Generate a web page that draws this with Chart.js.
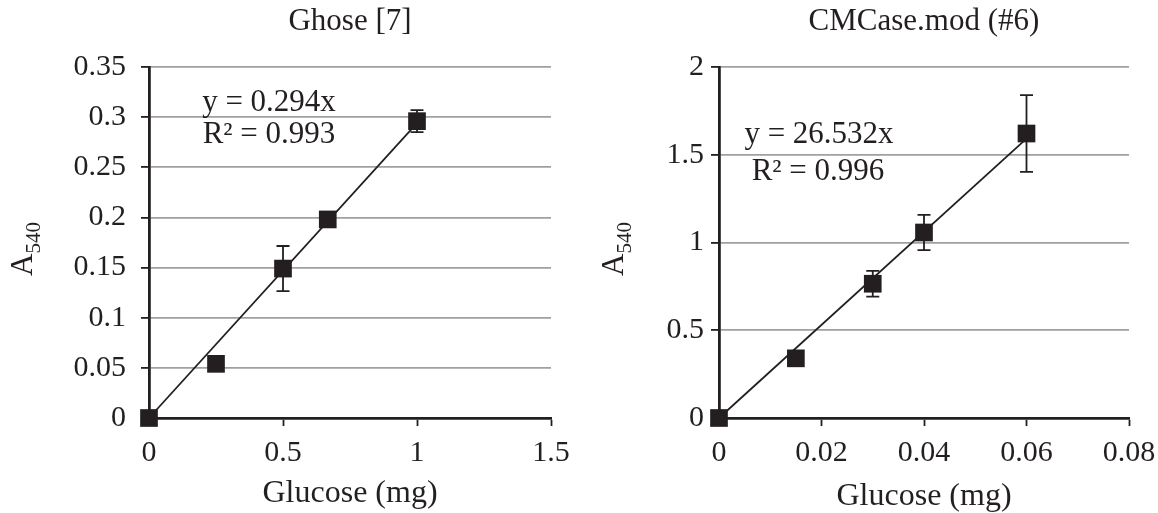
<!DOCTYPE html>
<html>
<head>
<meta charset="utf-8">
<script src="https://cdn.jsdelivr.net/npm/chart.js@4.4.1/dist/chart.umd.min.js"></script>
<style>
html,body{margin:0;padding:0;background:#fff;}
#wrap{position:relative;width:1158px;height:513px;}
.c{position:absolute;top:0;width:579px;height:513px;}
</style>
</head>
<body>
<div id="wrap">
<div class="c" style="left:0"><canvas id="c1"></canvas></div>
<div class="c" style="left:579px"><canvas id="c2"></canvas></div>
</div>
<script>
// ---- data: left panel (Ghose [7]) ----
const leftTitle = "Ghose [7]";
const leftX = [0, 0.25, 0.5, 0.667, 1];
const leftY = [0, 0.054, 0.149, 0.198, 0.296];
const leftErr = [0, 0, 0.0225, 0, 0.011];
const leftSlope = 0.294;
const leftFitX = [0, 1];
const leftEq = ["y = 0.294x", "R² = 0.993"];
const leftXTicks = [0, 0.5, 1, 1.5];
const leftXTickLabels = ["0", "0.5", "1", "1.5"];
const leftYTicks = [0, 0.05, 0.1, 0.15, 0.2, 0.25, 0.3, 0.35];
const leftYTickLabels = ["0", "0.05", "0.1", "0.15", "0.2", "0.25", "0.3", "0.35"];

// ---- data: right panel (CMCase.mod (#6)) ----
const rightTitle = "CMCase.mod (#6)";
const rightX = [0, 0.015, 0.03, 0.04, 0.06];
const rightY = [0, 0.34, 0.765, 1.057, 1.621];
const rightErr = [0, 0, 0.073, 0.1, 0.219];
const rightSlope = 26.532;
const rightFitX = [0, 0.06];
const rightEq = ["y = 26.532x", "R² = 0.996"];
const rightXTicks = [0, 0.02, 0.04, 0.06, 0.08];
const rightXTickLabels = ["0", "0.02", "0.04", "0.06", "0.08"];
const rightYTicks = [0, 0.5, 1, 1.5, 2];
const rightYTickLabels = ["0", "0.5", "1", "1.5", "2"];

const xAxisTitle = "Glucose (mg)";
const yAxisMain = "A";
const yAxisSub = "540";

const INK = '#231f20';
const FONT = "'Liberation Serif', 'Times New Roman', serif";

function makeChart(id, cfg) {
  const errPlugin = {
    id: 'errbars',
    beforeDatasetsDraw(chart) {
      const ctx = chart.ctx, xs = chart.scales.x, ys = chart.scales.y;
      ctx.save();
      ctx.strokeStyle = INK; ctx.lineWidth = 1.8;
      cfg.xs.forEach((xv, i) => {
        const e = cfg.err[i]; if (!e) return;
        const px = xs.getPixelForValue(xv);
        const t = ys.getPixelForValue(cfg.ys[i] + e), b = ys.getPixelForValue(cfg.ys[i] - e);
        ctx.beginPath();
        ctx.moveTo(px, t); ctx.lineTo(px, b);
        ctx.moveTo(px - 6.5, t); ctx.lineTo(px + 6.5, t);
        ctx.moveTo(px - 6.5, b); ctx.lineTo(px + 6.5, b);
        ctx.stroke();
      });
      ctx.restore();
    },
    afterDraw(chart) {
      const ctx = chart.ctx;
      ctx.save();
      ctx.fillStyle = INK;
      // equation labels
      ctx.font = "31px " + FONT;
      ctx.textAlign = 'center'; ctx.textBaseline = 'middle';
      cfg.eqPos.forEach((p, i) => ctx.fillText(cfg.eq[i], p[0], p[1]));
      // y-axis title with subscript
      ctx.translate(cfg.yt[0], cfg.yt[1]);
      ctx.rotate(-Math.PI / 2);
      ctx.textAlign = 'left'; ctx.textBaseline = 'alphabetic';
      ctx.font = "31px " + FONT;
      ctx.fillText(yAxisMain, 0, 0);
      const w = ctx.measureText(yAxisMain).width;
      ctx.font = "21px " + FONT;
      ctx.fillText(yAxisSub, w, 8);
      ctx.restore();
    }
  };
  const fitData = cfg.fitX.map(v => ({x: v, y: cfg.slope * v}));
  return new Chart(document.getElementById(id), {
    type: 'scatter',
    data: {
      datasets: [
        {
          data: cfg.xs.map((v, i) => ({x: v, y: cfg.ys[i]})),
          pointStyle: 'rect', pointRadius: 12.5, pointHoverRadius: 12.5,
          backgroundColor: INK, borderColor: INK, borderWidth: 0, clip: false
        },
        {
          data: fitData, showLine: true, pointRadius: 0, borderColor: INK,
          borderWidth: 1.8, fill: false, clip: false
        }
      ]
    },
    options: {
      responsive: true, maintainAspectRatio: false, animation: false,
      events: [],
      layout: {padding: {top: 0, left: 0, right: cfg.padRight, bottom: 0}},
      plugins: {legend: {display: false}, tooltip: {enabled: false}, title: {display: false}},
      scales: {
        x: {
          type: 'linear', position: 'bottom', min: cfg.xTicks[0], max: cfg.xTicks[cfg.xTicks.length - 1],
          afterBuildTicks: s => { s.ticks = cfg.xTicks.map(v => ({value: v})); },
          afterFit: s => { s.height = 95; s.paddingLeft = 0; s.paddingRight = 0; },
          ticks: {callback: (v, i) => cfg.xLabels[i], color: INK, font: {family: FONT, size: 30}, padding: 9, maxRotation: 0, autoSkip: false},
          grid: {drawOnChartArea: false, drawTicks: true, tickLength: 8, tickColor: INK, tickWidth: 1.8},
          border: {display: true, color: INK, width: 2.8},
          title: {display: true, text: xAxisTitle, color: INK, font: {family: FONT, size: 32}, padding: {top: 0, bottom: cfg.xtPad}}
        },
        x2: {
          type: 'linear', position: 'top', min: 0, max: 1,
          afterFit: s => { s.height = 67; s.paddingLeft = 0; s.paddingRight = 0; },
          ticks: {display: false},
          grid: {display: false, drawTicks: false},
          border: {display: false},
          title: {display: true, text: cfg.title, color: INK, font: {family: FONT, size: 31}, padding: {top: 3, bottom: 0}}
        },
        y: {
          type: 'linear', position: 'left', min: cfg.yTicks[0], max: cfg.yTicks[cfg.yTicks.length - 1],
          afterBuildTicks: s => { s.ticks = cfg.yTicks.map(v => ({value: v})); },
          afterFit: s => { s.width = cfg.yWidth; s.paddingTop = 0; s.paddingBottom = 0; },
          ticks: {callback: (v, i) => cfg.yLabels[i], color: INK, font: {family: FONT, size: 30}, padding: cfg.yPad, autoSkip: false},
          grid: {color: '#a0a0a0', lineWidth: 1.8, drawTicks: true, tickLength: 8, tickColor: INK, tickWidth: 1.8},
          border: {display: true, color: INK, width: 2.8}
        }
      }
    },
    plugins: [errPlugin]
  });
}

makeChart('c1', {
  title: leftTitle, xs: leftX, ys: leftY, err: leftErr, slope: leftSlope, fitX: leftFitX,
  eq: leftEq, eqPos: [[269, 103], [269, 135]],
  xTicks: leftXTicks, xLabels: leftXTickLabels, yTicks: leftYTicks, yLabels: leftYTickLabels,
  yWidth: 149, padRight: 28, yPad: 15, xtPad: 0, yt: [32, 276]
});
makeChart('c2', {
  title: rightTitle, xs: rightX, ys: rightY, err: rightErr, slope: rightSlope, fitX: rightFitX,
  eq: rightEq, eqPos: [[240, 135], [239, 172]],
  xTicks: rightXTicks, xLabels: rightXTickLabels, yTicks: rightYTicks, yLabels: rightYTickLabels,
  yWidth: 140, padRight: 29, yPad: 7, xtPad: -3, yt: [44, 276]
});
</script>
</body>
</html>
